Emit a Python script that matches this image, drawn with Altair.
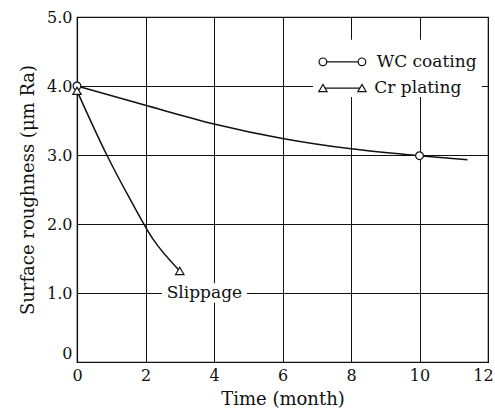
import altair as alt
import pandas as pd

# Measured roughness curves
wc_time = [0, 2, 4, 6, 8, 10, 11.4]
wc_ra = [4.0, 3.72, 3.45, 3.24, 3.09, 2.99, 2.93]
wc_pt_time = [0, 10]
wc_pt_ra = [4.0, 2.99]

cr_time = [0, 0.87, 1.55, 2.22, 3.0]
cr_ra = [3.93, 3.0, 2.36, 1.78, 1.32]
cr_pt_time = [0, 3.0]
cr_pt_ra = [3.93, 1.32]

series_names = ["WC coating", "Cr plating"]
note_text = "Slippage"

FONT = "DejaVu Serif"
INK = "#111111"

x_scale = alt.Scale(domain=[0, 12], nice=False, zero=False)
y_scale = alt.Scale(domain=[0, 5], nice=False, zero=False)

x_axis = alt.Axis(values=[0, 2, 4, 6, 8, 10, 12], format="d", title="Time (month)",
                  labelOffset={"condition": {"test": "datum.value == 12", "value": -5}, "value": 0},
                  tickSize=0, labelPadding=5, titlePadding=7, grid=True,
                  gridColor=INK, gridWidth=1, domainColor=INK, domainWidth=1.2,
                  labelFont=FONT, labelFontSize=16, labelColor=INK,
                  titleFont=FONT, titleFontSize=18, titleFontWeight="normal", titleColor=INK,
                  labelFlush=False)
y_axis = alt.Axis(values=[0, 1, 2, 3, 4, 5], title="Surface roughness (μm Ra)",
                  labelExpr="datum.value == 0 ? '0' : format(datum.value, '.1f')",
                  labelOffset={"condition": {"test": "datum.value == 0", "value": -9}, "value": 0},
                  tickSize=0, labelPadding=5, titlePadding=9, grid=True,
                  gridColor=INK, gridWidth=1, domainColor=INK, domainWidth=1.2,
                  labelFont=FONT, labelFontSize=16, labelColor=INK,
                  titleFont=FONT, titleFontSize=18, titleFontWeight="normal", titleColor=INK)

wc_df = pd.DataFrame({"t": wc_time, "ra": wc_ra})
wc_pts = pd.DataFrame({"t": wc_pt_time, "ra": wc_pt_ra})
cr_df = pd.DataFrame({"t": cr_time, "ra": cr_ra})
cr_pts = pd.DataFrame({"t": cr_pt_time, "ra": cr_pt_ra})

X = alt.X("t:Q", scale=x_scale, axis=x_axis)
Y = alt.Y("ra:Q", scale=y_scale, axis=y_axis)

wc_line = alt.Chart(wc_df).mark_line(color=INK, strokeWidth=1.5, interpolate="monotone").encode(x=X, y=Y)
cr_line = alt.Chart(cr_df).mark_line(color=INK, strokeWidth=1.5, interpolate="monotone").encode(x="t:Q", y="ra:Q")

wc_mark = alt.Chart(wc_pts).mark_point(shape="circle", size=60, filled=True, fill="white",
                                       stroke=INK, strokeWidth=1.2, opacity=1).encode(x="t:Q", y="ra:Q")
cr_mark = alt.Chart(cr_pts).mark_point(shape="triangle-up", size=70, filled=True, fill="white",
                                       stroke=INK, strokeWidth=1.2, opacity=1).encode(x="t:Q", y="ra:Q")

# white patches behind the key and the annotation so grid lines break there
patch_df = pd.DataFrame({"x0": [6.89, 2.48], "x1": [11.82, 4.96], "y0": [3.84, 0.86], "y1": [4.67, 1.14]})
patches = alt.Chart(patch_df).mark_rect(color="white").encode(
    x="x0:Q", x2="x1:Q", y="y0:Q", y2="y1:Q")

# key
key_y = [4.35, 3.97]
key_line_df = pd.DataFrame({"x0": [7.18, 7.18], "x1": [8.32, 8.32], "y": key_y})
key_lines = alt.Chart(key_line_df).mark_rule(color=INK, strokeWidth=1.2).encode(
    x="x0:Q", x2="x1:Q", y="y:Q")
key_wc = alt.Chart(pd.DataFrame({"t": [7.18, 8.32], "ra": [key_y[0]] * 2})).mark_point(
    shape="circle", size=60, filled=True, fill="white", stroke=INK, strokeWidth=1.2, opacity=1
).encode(x="t:Q", y="ra:Q")
key_cr = alt.Chart(pd.DataFrame({"t": [7.18, 8.32], "ra": [key_y[1]] * 2})).mark_point(
    shape="triangle-up", size=70, filled=True, fill="white", stroke=INK, strokeWidth=1.2, opacity=1
).encode(x="t:Q", y="ra:Q")
key_text = alt.Chart(pd.DataFrame({"t": [8.75, 8.68], "ra": key_y, "label": series_names})).mark_text(
    align="left", baseline="middle", font=FONT, fontSize=17, color=INK
).encode(x="t:Q", y="ra:Q", text="label:N")

note = alt.Chart(pd.DataFrame({"t": [3.72], "ra": [1.0], "label": [note_text]})).mark_text(
    align="center", baseline="middle", font=FONT, fontSize=17, color=INK
).encode(x="t:Q", y="ra:Q", text="label:N")

chart = alt.layer(
    wc_line, cr_line, patches, wc_mark, cr_mark,
    key_lines, key_wc, key_cr, key_text, note
).properties(
    width=411, height=345,
    autosize=alt.AutoSizeParams(type="none"),
    padding={"left": 77, "top": 17, "right": 7, "bottom": 54},
    background="white",
).configure_view(stroke=INK, strokeWidth=1.2)

chart.save("out.html", embed_options={"renderer": "svg", "actions": False})
